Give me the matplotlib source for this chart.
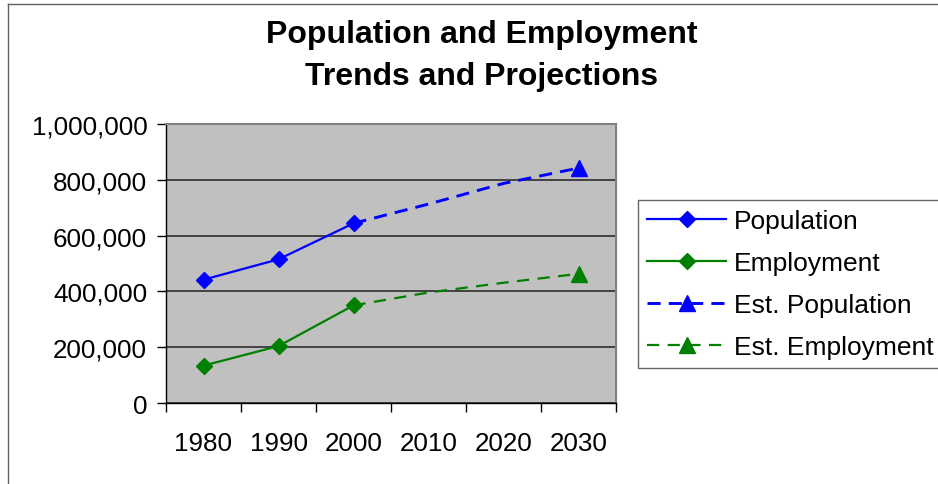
import numpy as np
import matplotlib
matplotlib.use('Agg')
import matplotlib.pyplot as plt
from matplotlib.ticker import StrMethodFormatter, FixedLocator, NullFormatter
from matplotlib.lines import Line2D

plt.rcParams['font.family'] = ['Liberation Sans', 'DejaVu Sans']

# datos
years = ['1980', '1990', '2000', '2010', '2020', '2030']
population = [442000, 515000, 644000]          # 1980-2000
employment = [134000, 204000, 350000]          # 1980-2000
est_population = [644000, 713000, 787000, 842000]   # 2000-2030
est_employment = [350000, 396000, 431000, 463000]   # 2000-2030

W, H = 938, 485
fig = plt.figure(figsize=(W / 100, H / 100), dpi=100)
fig.patch.set_facecolor('white')

# area del grafico (en pixeles)
x0, x1, ytop, ybot = 166, 616, 125, 404
ax = fig.add_axes([x0 / W, 1 - ybot / H, (x1 - x0) / W, (ybot - ytop) / H])
ax.set_facecolor('#C0C0C0')

xa = np.arange(len(population))
xe = np.arange(2, 2 + len(est_population))

ax.plot(xe, est_population, color='#0000FF', lw=2.1, ls=(0, (4.5, 2.8)),
        marker='^', ms=11, markevery=[len(xe) - 1], label='Est. Population', zorder=3)
ax.plot(xe, est_employment, color='#008000', lw=1.6, ls=(0, (5.5, 3.8)),
        marker='^', ms=11, markevery=[len(xe) - 1], label='Est. Employment', zorder=3)
ax.plot(xa, population, color='#0000FF', lw=1.6, marker='D', ms=8.5,
        label='Population', zorder=4)
ax.plot(xa, employment, color='#008000', lw=1.6, marker='D', ms=8.5,
        label='Employment', zorder=4)

ax.set_xlim(-0.5, len(years) - 0.5)
ax.set_ylim(0, 1000000)
ax.set_yticks(np.arange(0, 1000001, 200000))
ax.yaxis.set_major_formatter(StrMethodFormatter('{x:,.0f}'))
ax.yaxis.grid(True, color='#202020', lw=1.1)
ax.set_axisbelow(True)

ax.xaxis.set_major_locator(FixedLocator(np.arange(-0.5, len(years), 1.0)))
ax.xaxis.set_major_formatter(NullFormatter())
ax.xaxis.set_minor_locator(FixedLocator(np.arange(len(years))))
ax.set_xticklabels(years, minor=True)
ax.tick_params(axis='x', which='major', direction='out', length=6.5, width=1, color='black')
ax.tick_params(axis='x', which='minor', length=0, pad=20, labelsize=18.7)
ax.tick_params(axis='y', direction='out', length=6.5, width=1, pad=7, labelsize=18.7)

for s in ['top', 'right']:
    ax.spines[s].set_color('#808080')
    ax.spines[s].set_linewidth(1.5)
for s in ['left', 'bottom']:
    ax.spines[s].set_color('black')
    ax.spines[s].set_linewidth(1)

# leyenda en el orden del original
handles, labels = ax.get_legend_handles_labels()
order = [2, 3, 0, 1]
leg = fig.legend([handles[i] for i in order], [labels[i] for i in order],
                 loc='upper left', bbox_to_anchor=(638 / W, 1 - 201 / H),
                 fontsize=19, frameon=True, fancybox=False, handlelength=3.0,
                 handletextpad=0.27, borderpad=0.35, labelspacing=0.68,
                 borderaxespad=0)
leg.get_frame().set_edgecolor('#404040')
leg.get_frame().set_linewidth(1)

# titulo
fig.text(482 / W, 1 - 35 / H, 'Population and Employment', ha='center', va='center',
         fontsize=23, fontweight='bold')
fig.text(482 / W, 1 - 77 / H, 'Trends and Projections', ha='center', va='center',
         fontsize=23, fontweight='bold')

# borde del area del grafico
fig.add_artist(Line2D([8 / W, 8 / W], [0, 1 - 5 / H], color='#606060', lw=1))
fig.add_artist(Line2D([8 / W, 1], [1 - 5 / H, 1 - 5 / H], color='#606060', lw=1))

fig.savefig('out.png', dpi=100)
